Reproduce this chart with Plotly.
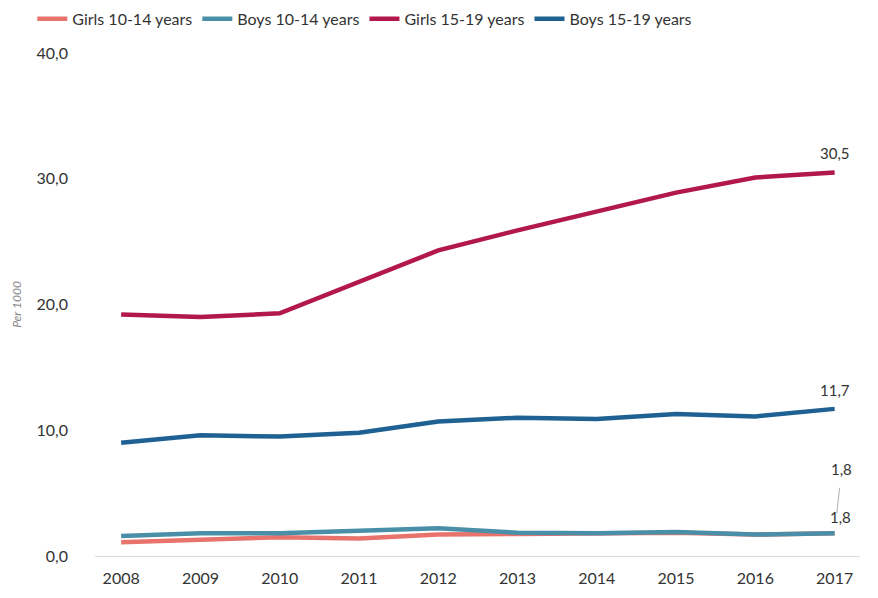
import plotly.graph_objects as go

years = [2008, 2009, 2010, 2011, 2012, 2013, 2014, 2015, 2016, 2017]
girls_10_14 = [1.1, 1.3, 1.5, 1.4, 1.7, 1.75, 1.8, 1.85, 1.7, 1.8]
boys_10_14 = [1.6, 1.8, 1.8, 2.0, 2.2, 1.85, 1.8, 1.9, 1.7, 1.8]
girls_15_19 = [19.2, 19.0, 19.3, 21.8, 24.3, 25.9, 27.4, 28.9, 30.1, 30.5]
boys_15_19 = [9.0, 9.6, 9.5, 9.8, 10.7, 11.0, 10.9, 11.3, 11.1, 11.7]
y_ticks = [0, 10, 20, 30, 40]

series = [
    ("Girls 10-14 years", girls_10_14, "#E8736C"),
    ("Boys 10-14 years", boys_10_14, "#4A8FA8"),
    ("Girls 15-19 years", girls_15_19, "#B3184B"),
    ("Boys 15-19 years", boys_15_19, "#1F6192"),
]

fig = go.Figure()
for name, vals, col in series:
    fig.add_trace(go.Scatter(x=years, y=vals, name=name, mode="lines",
                             line=dict(color=col, width=4.5)))

def fmt(v):
    return f"{v:.1f}".replace(".", ",")

font_lbl = dict(family="Lato, Open Sans, sans-serif", size=15, color="#333333")
fig.add_annotation(x=years[-1], y=girls_15_19[-1], text=fmt(girls_15_19[-1]),
                   showarrow=False, yshift=19, font=font_lbl)
fig.add_annotation(x=years[-1], y=boys_15_19[-1], text=fmt(boys_15_19[-1]),
                   showarrow=False, yshift=19, font=font_lbl)
fig.add_annotation(x=years[-1], y=boys_10_14[-1], text=fmt(boys_10_14[-1]),
                   showarrow=False, yshift=16, xshift=6, font=font_lbl)
fig.add_annotation(x=years[-1], y=girls_10_14[-1], text=fmt(girls_10_14[-1]),
                   showarrow=True, arrowhead=0, arrowwidth=0.8, arrowcolor="#999999",
                   ax=7, ay=-64, standoff=20, startstandoff=8, font=font_lbl)

fig.update_layout(
    width=878, height=598,
    paper_bgcolor="white", plot_bgcolor="white",
    separators=",.",
    margin=dict(l=87, r=26, t=45, b=50, autoexpand=False),
    font=dict(family="Lato, Open Sans, sans-serif", size=15, color="#333333"),
    legend=dict(orientation="h", x=-0.082, xanchor="left", y=1.068, yanchor="middle",
                font=dict(size=16, color="#333333"), itemwidth=30,
                tracegroupgap=0, bgcolor="rgba(0,0,0,0)"),
    xaxis=dict(range=[2007.67, 2017.32], tickvals=years, showgrid=False,
               showline=True, linecolor="#d9d9d9", linewidth=1, ticks="",
               ticklabelstandoff=8, automargin=False,
               tickfont=dict(size=16, color="#333333"), zeroline=False),
    yaxis=dict(range=[0, 40], tickvals=y_ticks, tickformat=".1f", showgrid=False,
               zeroline=False, showline=False, ticks="", ticklabelstandoff=26,
               automargin=False,
               tickfont=dict(size=16, color="#333333"),
               title=dict(text="<i>Per 1000</i>", standoff=12,
                          font=dict(size=12, color="#888888"))),
)

fig.write_html("out.html")
